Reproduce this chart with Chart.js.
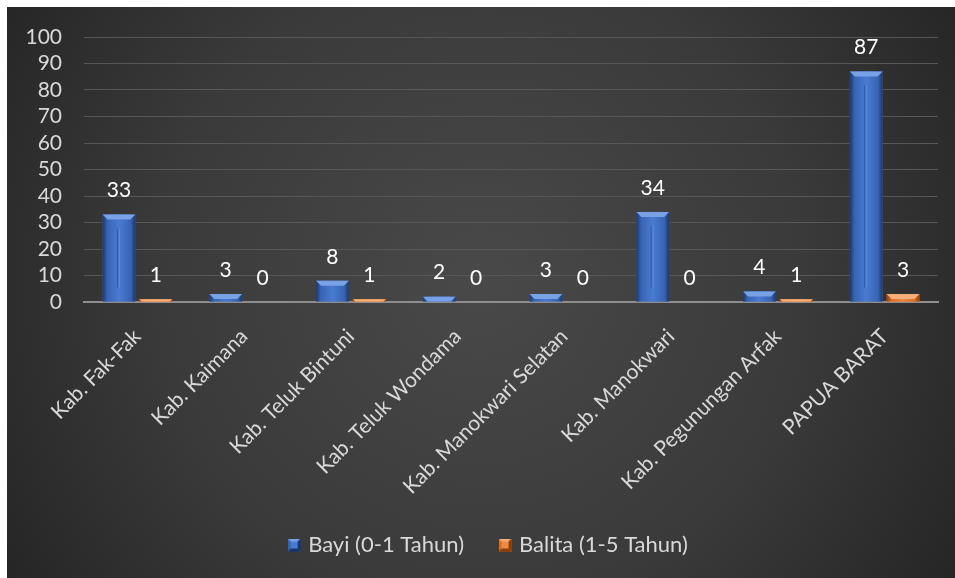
<!DOCTYPE html>
<html>
<head>
<meta charset="utf-8">
<script src="https://cdn.jsdelivr.net/npm/chart.js@4/dist/chart.umd.min.js"></script>
<style>
  html, body { margin: 0; padding: 0; background: #ffffff; }
  #wrap { position: absolute; left: 7px; top: 7px; width: 948px; height: 571px; }
</style>
</head>
<body>
<div id="wrap"><canvas id="chart"></canvas></div>
<script>
// Regencies of Papua Barat and the province total
const categories = [
  'Kab. Fak-Fak',
  'Kab. Kaimana',
  'Kab. Teluk Bintuni',
  'Kab. Teluk Wondama',
  'Kab. Manokwari Selatan',
  'Kab. Manokwari',
  'Kab. Pegunungan Arfak',
  'PAPUA BARAT'
];
const seriesNames = ['Bayi (0-1 Tahun)', 'Balita (1-5 Tahun)'];
const bayi = [33, 3, 8, 2, 3, 34, 4, 87];
const balita = [1, 0, 1, 0, 0, 0, 1, 3];
const yTicks = [0, 10, 20, 30, 40, 50, 60, 70, 80, 90, 100];

const FONT = 'Lato, "Open Sans", "Liberation Sans", sans-serif';
const TEXT = '#d9d9d9';

// Colour sets for the bevelled bars
const palettes = {
  blue:   { base: '#4472c4', edge: '#1d3668', mid: '#3763b2', centre: '#4a7bd2', top: '#79a2e6', line: '#5d8bdc' },
  orange: { base: '#ed7d31', edge: '#8a3f10', mid: '#d86d24', centre: '#f08a42', top: '#f6ae78', line: '#f39a5a' }
};

function legendIcon(p) {
  const c = document.createElement('canvas');
  c.width = 13; c.height = 13;
  const g = c.getContext('2d');
  g.fillStyle = p.mid; g.fillRect(0, 0, 13, 13);
  g.fillStyle = p.top;
  g.beginPath(); g.moveTo(0, 0); g.lineTo(13, 0); g.lineTo(10, 3); g.lineTo(3, 3); g.closePath(); g.fill();
  g.fillStyle = p.edge;
  g.beginPath(); g.moveTo(13, 0); g.lineTo(10, 3); g.lineTo(10, 10); g.lineTo(13, 13); g.closePath(); g.fill();
  g.beginPath(); g.moveTo(0, 13); g.lineTo(3, 10); g.lineTo(10, 10); g.lineTo(13, 13); g.closePath(); g.fill();
  g.fillStyle = p.centre; g.fillRect(3, 3, 7, 7);
  return c;
}

// Dark radial backdrop behind the whole chart
const backdrop = {
  id: 'backdrop',
  beforeDraw(chart) {
    const { ctx, width, height } = chart;
    const grd = ctx.createRadialGradient(width * 0.5, height * 0.48, 0, width * 0.5, height * 0.48, width * 0.62);
    grd.addColorStop(0, '#494949');
    grd.addColorStop(0.55, '#3a3a3a');
    grd.addColorStop(1, '#232323');
    ctx.save();
    ctx.fillStyle = grd;
    ctx.fillRect(0, 0, width, height);
    ctx.restore();
  }
};

// Nudge the legend row a little to the right of the canvas centre
const legendShift = {
  id: 'legendShift',
  afterLayout(chart) {
    if (chart.legend) chart.legend.left += 34;
  }
};

// Bevel shading painted on top of each bar element
const bevel = {
  id: 'bevel',
  afterDatasetDraw(chart, args) {
    const { ctx } = chart;
    const meta = args.meta;
    const p = meta.index === 0 ? palettes.blue : palettes.orange;
    meta.data.forEach(bar => {
      const h = bar.base - bar.y;
      if (h <= 0.5) return;
      const x0 = bar.x - bar.width / 2, x1 = bar.x + bar.width / 2;
      const y0 = bar.y, y1 = bar.base;
      ctx.save();
      const g = ctx.createLinearGradient(x0, 0, x1, 0);
      g.addColorStop(0, p.edge);
      g.addColorStop(0.14, p.mid);
      g.addColorStop(0.5, p.centre);
      g.addColorStop(0.86, p.mid);
      g.addColorStop(1, p.edge);
      ctx.fillStyle = g;
      ctx.fillRect(x0, y0, x1 - x0, y1 - y0);
      const b = Math.min(5, h);
      ctx.fillStyle = p.top;
      ctx.beginPath();
      ctx.moveTo(x0, y0); ctx.lineTo(x1, y0);
      ctx.lineTo(x1 - b, y0 + b); ctx.lineTo(x0 + b, y0 + b);
      ctx.closePath(); ctx.fill();
      if (h > 30) {
        ctx.strokeStyle = p.line;
        ctx.lineWidth = 1;
        ctx.beginPath();
        ctx.moveTo(bar.x + 0.5, y0 + 14);
        ctx.lineTo(bar.x + 0.5, y1 - 14);
        ctx.stroke();
        ctx.strokeStyle = 'rgba(0,0,0,0.25)';
        ctx.beginPath();
        ctx.moveTo(bar.x - 1.5, y0 + 14);
        ctx.lineTo(bar.x - 1.5, y1 - 14);
        ctx.stroke();
      }
      ctx.restore();
    });
  }
};

// Value labels above every bar
const valueLabels = {
  id: 'valueLabels',
  afterDatasetsDraw(chart) {
    const { ctx } = chart;
    ctx.save();
    ctx.font = '21px ' + FONT;
    ctx.fillStyle = '#ffffff';
    ctx.textAlign = 'center';
    ctx.textBaseline = 'middle';
    chart.data.datasets.forEach((ds, di) => {
      const meta = chart.getDatasetMeta(di);
      meta.data.forEach((bar, i) => {
        ctx.fillText(String(ds.data[i]), bar.x, bar.y - 24);
      });
    });
    ctx.restore();
  }
};

new Chart(document.getElementById('chart'), {
  type: 'bar',
  data: {
    labels: categories,
    datasets: [
      { label: seriesNames[0], data: bayi, backgroundColor: palettes.blue.base, borderWidth: 0,
        categoryPercentage: 0.69, barPercentage: 0.89, pointStyle: legendIcon(palettes.blue) },
      { label: seriesNames[1], data: balita, backgroundColor: palettes.orange.base, borderWidth: 0,
        categoryPercentage: 0.69, barPercentage: 0.89, pointStyle: legendIcon(palettes.orange) }
    ]
  },
  options: {
    responsive: true,
    maintainAspectRatio: false,
    animation: false,
    layout: { padding: { left: 0, top: 30, right: 17, bottom: 12 } },
    plugins: {
      legend: {
        position: 'bottom',
        labels: {
          usePointStyle: true,
          boxWidth: 13,
          boxHeight: 13,
          pointStyleWidth: 6,
          padding: 38,
          color: TEXT,
          font: { family: FONT, size: 22 }
        }
      },
      tooltip: { enabled: false }
    },
    scales: {
      x: {
        grid: { display: false, drawTicks: false },
        border: { display: true, color: '#8e8e8e', width: 2 },
        ticks: {
          color: TEXT,
          font: { family: FONT, size: 21 },
          minRotation: 45,
          maxRotation: 45,
          autoSkip: false,
          padding: 22
        },
        afterFit(scale) { scale.height = 194; }
      },
      y: {
        min: 0,
        max: 100,
        afterBuildTicks(scale) { scale.ticks = yTicks.map(v => ({ value: v })); },
        grid: {
          color: ctx => ctx.tick && ctx.tick.value === 0 ? 'rgba(0,0,0,0)' : '#575757',
          lineWidth: 1,
          drawTicks: true,
          tickLength: 22,
          tickColor: 'rgba(0,0,0,0)'
        },
        border: { display: false },
        ticks: {
          color: TEXT,
          font: { family: FONT, size: 21 },
          padding: 0,
          autoSkip: false
        },
        afterFit(scale) { scale.width = 77; }
      }
    }
  },
  plugins: [backdrop, legendShift, bevel, valueLabels]
});
</script>
</body>
</html>
